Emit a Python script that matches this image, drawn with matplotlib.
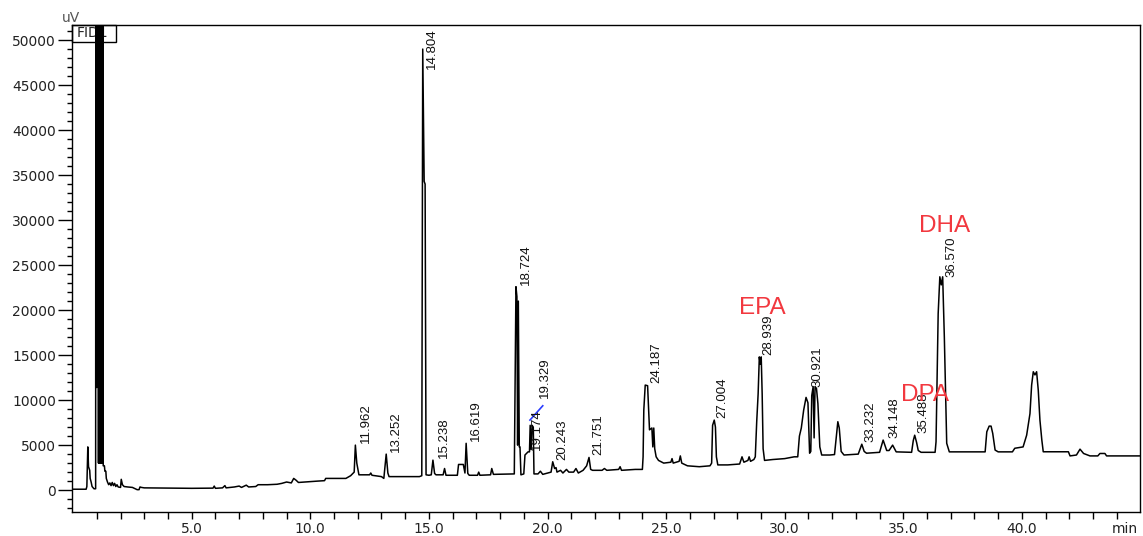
import matplotlib
matplotlib.use('Agg')
import matplotlib.pyplot as plt
from matplotlib.patches import Rectangle
from matplotlib.ticker import MultipleLocator, FixedLocator
import numpy as np

# FID1 chromatogram, values (min, uV)
time_min = [
    0.00, 0.55, 0.58, 0.62, 0.65, 0.70, 0.72, 0.76, 0.80, 0.88, 0.95,
    # solvent peak (off scale)
    0.96, 1.00, 1.05, 1.07, 1.09, 1.11, 1.13, 1.15, 1.17, 1.19, 1.21, 1.23,
    1.25, 1.27,
    1.32, 1.34, 1.38, 1.40, 1.45, 1.50, 1.55, 1.60, 1.65, 1.70, 1.75, 1.80,
    1.85, 1.90, 2.00, 2.03, 2.08, 2.15, 2.30, 2.50, 2.70, 2.78, 2.82, 2.88,
    3.00, 5.00, 5.90, 5.95, 6.00, 6.30, 6.40, 6.45, 6.80, 7.00, 7.10, 7.30,
    7.40, 7.70, 7.80, 8.20, 8.60, 8.80, 9.00, 9.20, 9.30, 9.40, 9.50, 10.00,
    10.30, 10.60, 10.65, 11.50, 11.70, 11.85, 11.90, 11.96, 12.05, 12.50,
    12.55, 12.60, 13.00, 13.10, 13.20, 13.27, 13.32, 14.60, 14.70, 14.74,
    14.80, 14.84, 14.88, 15.00, 15.10, 15.17, 15.24, 15.30, 15.60, 15.66,
    15.72, 16.20, 16.25, 16.45, 16.52, 16.57, 16.64, 16.70, 17.05, 17.10,
    17.15, 17.60, 17.65, 17.72, 18.55, 18.60, 18.63, 18.67, 18.71, 18.74,
    18.77, 18.81, 18.84, 18.88, 19.00, 19.05, 19.18, 19.24, 19.27, 19.31,
    19.35, 19.40, 19.43, 19.60, 19.70, 19.80, 20.00, 20.15, 20.22, 20.30,
    20.36, 20.40, 20.55, 20.65, 20.80, 20.90, 21.10, 21.20, 21.30, 21.50,
    21.65, 21.75, 21.82, 21.90, 22.30, 22.40, 22.50, 23.00, 23.06, 23.12,
    23.70, 24.00, 24.03, 24.06, 24.12, 24.22, 24.30, 24.40, 24.44, 24.48,
    24.52, 24.58, 24.68, 24.90, 25.20, 25.25, 25.30, 25.55, 25.60, 25.66,
    25.90, 26.40, 26.85, 26.92, 26.96, 27.03, 27.08, 27.12, 27.18, 27.60,
    28.10, 28.20, 28.28, 28.45, 28.50, 28.56, 28.70, 28.76, 28.82, 28.88,
    28.93, 28.97, 29.01, 29.05, 29.09, 29.15, 29.50, 30.00, 30.40, 30.55,
    30.62, 30.70, 30.80, 30.90, 30.98, 31.05, 31.10, 31.14, 31.20, 31.24,
    31.28, 31.34, 31.40, 31.48, 31.56, 31.90, 32.10, 32.18, 32.24, 32.30,
    32.38, 32.50, 33.10, 33.25, 33.35, 33.45, 34.00, 34.15, 34.30, 34.40,
    34.55, 34.70, 35.35, 35.42, 35.48, 35.56, 35.63, 35.75, 36.34, 36.38,
    36.47, 36.54, 36.60, 36.66, 36.73, 36.83, 36.94, 38.45, 38.52, 38.62,
    38.70, 38.77, 38.87, 39.00, 39.60, 39.70, 40.05, 40.20, 40.34, 40.41,
    40.48, 40.55, 40.62, 40.69, 40.76, 40.84, 40.90, 41.96, 42.03, 42.30,
    42.45, 42.60, 42.87, 43.20, 43.29, 43.50, 43.57, 44.98,
]
signal_uv = [
    100, 100, 400, 4800, 2600, 2200, 1300, 900, 400, 150, 150,
    60000, 11400, 60000, 3000, 60000, 3000, 60000, 3000, 60000, 3000, 60000, 3000,
    60000, 2700,
    2700, 2100, 2100, 1300, 900, 600, 800, 500, 850, 500, 750, 400,
    600, 350, 300, 1200, 600, 400, 350, 300, 50, 50, 350, 300,
    250, 200, 220, 450, 200, 250, 500, 250, 350, 450, 300, 550,
    350, 400, 600, 600, 650, 750, 900, 800, 1300, 1100, 850, 950,
    1000, 1050, 1300, 1300, 1600, 2000, 5000, 3000, 1700, 1700,
    1900, 1650, 1500, 1300, 4000, 1900, 1500, 1500, 1600, 49000,
    34300, 34000, 1700, 1650, 1700, 3330, 1850, 1700, 1700, 2400,
    1650, 1650, 2850, 2850, 1900, 5200, 1850, 1650, 1650, 2000,
    1650, 1700, 2400, 1750, 1800, 1800, 10550, 22600, 21500, 5000,
    21000, 4800, 4800, 1700, 1800, 3900, 4250, 4250, 7200, 4500,
    7200, 7000, 1800, 1800, 2100, 1750, 1900, 2000, 3150, 2400,
    2500, 2000, 2200, 1900, 2300, 2000, 2000, 2400, 1900, 2200,
    2700, 3630, 2300, 2200, 2200, 2400, 2200, 2300, 2600, 2200,
    2300, 2300, 3700, 8900, 11670, 11600, 6700, 6900, 4800, 6900,
    4600, 3700, 3300, 3000, 3100, 3500, 3000, 3200, 3800, 3000,
    2700, 2600, 2700, 3000, 7200, 7780, 7000, 3700, 2800, 2800,
    2900, 3700, 3100, 3300, 3700, 3200, 3400, 3700, 7600, 10700,
    14800, 14000, 14800, 10700, 4600, 3300, 3400, 3500, 3700, 3700,
    6000, 6900, 8900, 10300, 9700, 4100, 4300, 10500, 11500, 5800,
    11500, 11300, 9600, 4800, 3900, 3900, 3950, 6000, 7600, 6900,
    4300, 3900, 4000, 5100, 4300, 4100, 4200, 5560, 4400, 4400,
    5000, 4250, 4200, 5500, 6100, 5300, 4400, 4200, 4200, 5370,
    19600, 23700, 22800, 23700, 17000, 5200, 4250, 4250, 6480, 7110,
    7110, 6300, 4450, 4250, 4250, 4650, 4800, 6100, 8500, 11670,
    13150, 12800, 13150, 11100, 7780, 5560, 4260, 4260, 3800, 3900,
    4550, 4070, 3800, 3800, 4070, 4070, 3800, 3800,
]

peak_labels = ['11.962', '13.252', '14.804', '15.238', '16.619', '18.724',
               '19.174', '19.329', '20.243', '21.751', '24.187', '27.004',
               '28.939', '30.921', '33.232', '34.148', '35.488', '36.570']

compounds = ['EPA', 'DPA', 'DHA']
compound_pos = [(29.06, 20220), (35.92, 10560), (36.76, 29330)]

# integration baseline marker near 19.2 min
marker_t = [19.26, 19.80]
marker_v = [7780, 9370]

fig = plt.figure(figsize=(11.43, 5.36), dpi=100)
ax = fig.add_axes([0.0630, 0.0453, 0.9344, 0.9080])

ax.plot(time_min, signal_uv, color='black', lw=1.1, zorder=3)
ax.plot(marker_t, marker_v, color='#2a3cff', lw=1.2, zorder=4)

t_arr = np.array(time_min)
s_arr = np.array(signal_uv)
nudge = {'19.329': (13, 27), '30.921': (11, 10), '34.148': (11, 2), '36.570': (11, 0)}
for lab in peak_labels:
    t = float(lab)
    win = (t_arr > t - 0.08) & (t_arr < t + 0.08)
    apex = s_arr[win].max()
    if apex > 40000:
        ax.annotate(lab, xy=(t, 1.0), xycoords=('data', 'axes fraction'),
                    xytext=(8, -3), textcoords='offset pixels', rotation=90,
                    ha='center', va='top', fontsize=9.5,
                    family='Liberation Sans', color='#111111', zorder=4)
    else:
        dx, dy = nudge.get(lab, (9, 2))
        ax.annotate(lab, xy=(t, apex), xytext=(dx, dy), textcoords='offset pixels',
                    rotation=90, ha='center', va='bottom', fontsize=9.5,
                    family='Liberation Sans', color='#111111', zorder=4)

for name, (tx, ty) in zip(compounds, compound_pos):
    ax.text(tx, ty, name, color='#f2383f', fontsize=17.5, family='Liberation Sans',
            ha='center', va='center', zorder=5)

ax.set_xlim(-0.046, 44.98)
ax.set_ylim(-2400, 51670)

ax.xaxis.set_major_locator(FixedLocator([5, 10, 15, 20, 25, 30, 35, 40]))
ax.xaxis.set_minor_locator(FixedLocator(list(range(1, 45))))
ax.set_xticklabels(['5.0', '10.0', '15.0', '20.0', '25.0', '30.0', '35.0', '40.0'])
ax.yaxis.set_major_locator(MultipleLocator(5000))
ax.yaxis.set_minor_locator(FixedLocator(list(range(-2000, 52000, 1000))))
ax.yaxis.set_major_formatter(plt.FuncFormatter(lambda v, p: '%d' % v))

ax.tick_params(axis='x', which='both', length=5, width=1, pad=2.5,
               labelsize=10, labelcolor='#222222')
ax.tick_params(axis='y', which='major', length=10, width=1, pad=1.5,
               labelsize=10, labelcolor='#222222')
ax.tick_params(axis='y', which='minor', length=3.6, width=1)
for sp in ax.spines.values():
    sp.set_linewidth(1.0)

ax.annotate('min', xy=(44.35, 0), xycoords=('data', 'axes fraction'),
            xytext=(0, -10), textcoords='offset pixels', ha='center', va='top',
            fontsize=10, color='#222222')
ax.text(-0.001, 1.0, 'uV', transform=ax.transAxes, ha='center', va='bottom',
        fontsize=10, color='#555555')

ax.add_patch(Rectangle((0, 0.9657), 0.0412, 0.0343, transform=ax.transAxes,
                       fill=False, lw=1.0, ec='black', zorder=1, clip_on=False))
ax.text(0.0187, 0.9828, 'FID1', transform=ax.transAxes, ha='center', va='center',
        fontsize=10, color='#222222', zorder=1)

fig.savefig('out.png', dpi=100)
